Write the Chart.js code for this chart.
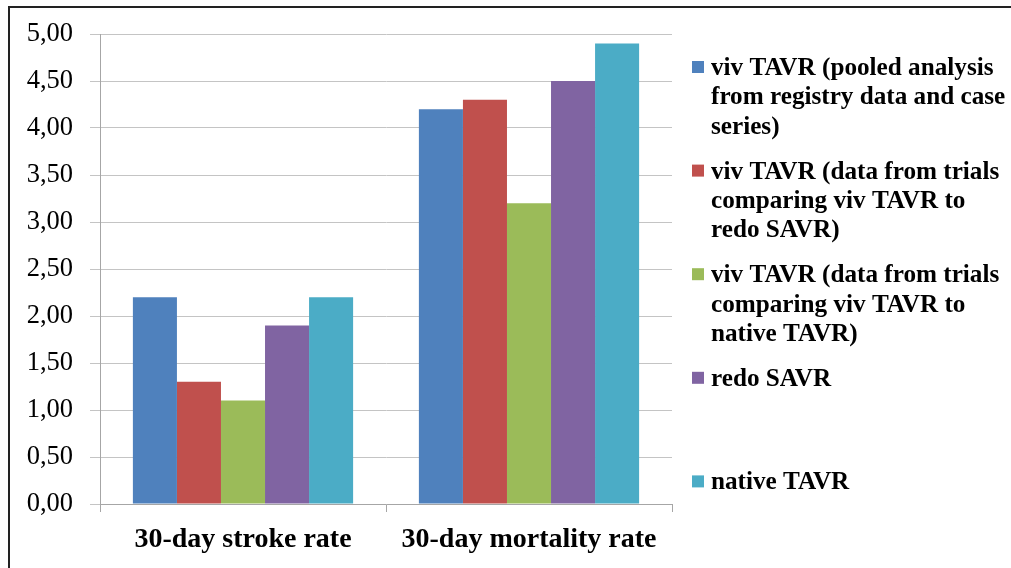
<!DOCTYPE html>
<html>
<head>
<meta charset="utf-8">
<title>viv TAVR vs redo SAVR vs native TAVR</title>
<script src="https://cdn.jsdelivr.net/npm/chart.js@4/dist/chart.umd.min.js"></script>
<style>
    html, body { margin: 0; padding: 0; background: #fff; overflow: hidden; }
    #wrap { position: relative; width: 1011px; height: 568px; }
    #frame {
        position: absolute; left: 8px; top: 6px; width: 1200px; height: 800px;
        border-left: 2px solid #222; border-top: 2px solid #222; pointer-events: none;
    }
    canvas { position: absolute; left: 0; top: 0; }
</style>
</head>
<body>
<div id="wrap">
    <canvas id="chart" width="1011" height="568"></canvas>
    <div id="frame"></div>
</div>
<script>
// chart data
const categories = ['30-day stroke rate', '30-day mortality rate'];
const seriesNames = [
    ['viv TAVR (pooled analysis', 'from registry data and case', 'series)'],
    ['viv TAVR (data from trials', 'comparing viv TAVR to', 'redo SAVR)'],
    ['viv TAVR (data from trials', 'comparing viv TAVR to', 'native TAVR)'],
    ['redo SAVR'],
    ['native TAVR']
];
const seriesColors = ['#4F81BD', '#C0504D', '#9BBB59', '#8064A2', '#4BACC6'];
const vivPooled = [2.2, 4.2];
const vivVsRedo = [1.3, 4.3];
const vivVsNative = [1.1, 3.2];
const redoSavr = [1.9, 4.5];
const nativeTavr = [2.2, 4.9];
const seriesValues = [vivPooled, vivVsRedo, vivVsNative, redoSavr, nativeTavr];
const yTicks = [0, 0.5, 1, 1.5, 2, 2.5, 3, 3.5, 4, 4.5, 5];

const serif = '"Liberation Serif", "Times New Roman", serif';

// legend on the right, Excel style: equal slots, wrapped text
const sideLegend = {
    id: 'sideLegend',
    afterDraw: (chart) => {
        const ctx = chart.ctx;
        ctx.save();
        ctx.font = 'bold 25.2px ' + serif;
        ctx.textBaseline = 'alphabetic';
        chart.data.datasets.forEach((ds, i) => {
            const y0 = 67 + i * 103.6;
            ctx.fillStyle = ds.backgroundColor;
            ctx.fillRect(692, y0 - 6, 12, 12);
            ctx.fillStyle = '#000';
            seriesNames[i].forEach((line, j) => {
                ctx.fillText(line, 711, y0 + 8 + j * 29.3);
            });
        });
        ctx.restore();
    }
};

const ctx = document.getElementById('chart').getContext('2d');
new Chart(ctx, {
    type: 'bar',
    data: {
        labels: categories,
        datasets: seriesValues.map((vals, i) => ({
            label: seriesNames[i].join(' '),
            data: vals,
            backgroundColor: seriesColors[i],
            borderWidth: 0,
            categoryPercentage: 0.77,
            barPercentage: 1.0
        }))
    },
    options: {
        responsive: false,
        animation: false,
        layout: { padding: { top: 34, right: 339, left: 0, bottom: 0 } },
        plugins: {
            legend: { display: false },
            tooltip: { enabled: false }
        },
        scales: {
            x: {
                afterFit: (scale) => { scale.height = 64; },
                grid: {
                    offset: true,
                    drawOnChartArea: false,
                    drawTicks: true,
                    tickLength: 8,
                    color: '#a6a6a6'
                },
                border: { color: '#a6a6a6' },
                ticks: {
                    padding: 11,
                    color: '#000',
                    font: { family: serif, size: 28, weight: 'bold' }
                }
            },
            y: {
                min: 0,
                max: 5,
                afterFit: (scale) => { scale.width = 100; },
                afterBuildTicks: (scale) => { scale.ticks = yTicks.map(v => ({ value: v })); },
                grid: { color: '#c4c4c4', tickLength: 10 },
                border: { color: '#a6a6a6' },
                ticks: {
                    padding: 17,
                    color: '#000',
                    font: { family: serif, size: 26.5 },
                    callback: (v) => Number(v).toFixed(2).replace('.', ',')
                }
            }
        }
    },
    plugins: [sideLegend]
});
</script>
</body>
</html>
